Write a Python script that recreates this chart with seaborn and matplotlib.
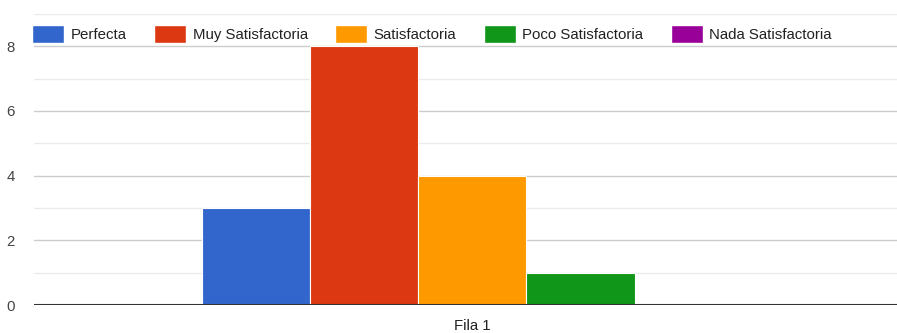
import matplotlib
matplotlib.use("Agg")
import matplotlib.pyplot as plt
import seaborn as sns
import pandas as pd

categories = ["Perfecta", "Muy Satisfactoria", "Satisfactoria", "Poco Satisfactoria", "Nada Satisfactoria"]
values = [3, 8, 4, 1, 0]
row_label = ["Fila 1"]
colors = ["#3366cc", "#dc3912", "#ff9900", "#109618", "#990099"]

df = pd.DataFrame({"fila": row_label * len(categories), "cat": categories, "val": values})

sns.set_theme(style="white")
plt.rcParams['font.family'] = ['Liberation Sans', 'DejaVu Sans']

fig = plt.figure(figsize=(8.97, 3.33), dpi=100)
ax = fig.add_axes([0.038, 0.084, 0.962, 0.874])

sns.barplot(data=df, x="fila", y="val", hue="cat", palette=colors, width=0.626,
            saturation=1, edgecolor="white", linewidth=0.8, ax=ax, legend=False)

ax.set_ylim(0, 9)
ax.set_xlim(-0.508, 0.492)
for v in range(0, 10):
    ax.axhline(v, color="#cccccc" if v % 2 == 0 else "#ebebeb", lw=1, zorder=0)
ax.axhline(0, color="#333333", lw=1.5, zorder=5)
ax.set_yticks([0, 2, 4, 6, 8])
ax.tick_params(axis="y", labelsize=10.8, colors="#444444", length=0, pad=14)
ax.tick_params(axis="x", labelsize=10.8, colors="#222222", length=0, pad=10)
ax.set_xlabel("")
ax.set_ylabel("")
for s in ax.spines.values():
    s.set_visible(False)

from matplotlib.patches import Patch
handles = [Patch(facecolor=c, edgecolor="white") for c in colors]
leg = fig.legend(handles, categories, loc="center left", bbox_to_anchor=(0.036, 0.898), ncol=5,
                 frameon=False, fontsize=10.8, handlelength=2.1, handleheight=1.45,
                 columnspacing=1.85, handletextpad=0.45, borderaxespad=0, borderpad=0)
for t in leg.get_texts():
    t.set_color("#222222")

fig.savefig("out.png", dpi=100, facecolor="white")
